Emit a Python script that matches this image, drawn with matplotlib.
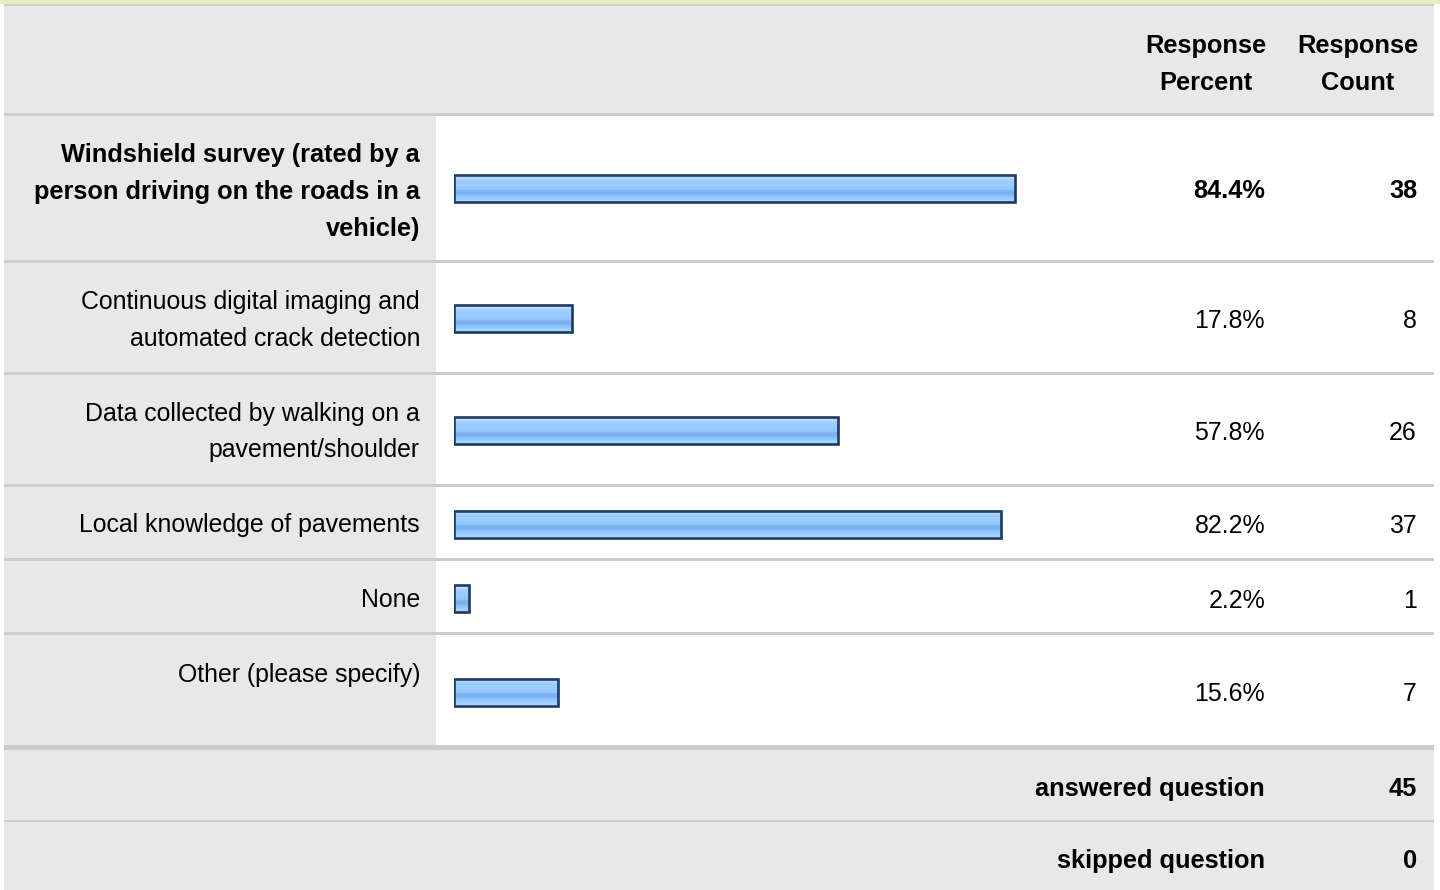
import matplotlib.pyplot as plt
from matplotlib.patches import Rectangle
import numpy as np

plt.rcParams['font.family'] = ['Liberation Sans', 'DejaVu Sans']

# данные опроса
labels = ['Windshield survey (rated by a\nperson driving on the roads in a\nvehicle)',
          'Continuous digital imaging and\nautomated crack detection',
          'Data collected by walking on a\npavement/shoulder',
          'Local knowledge of pavements',
          'None',
          'Other (please specify)']
percents = [84.4, 17.8, 57.8, 82.2, 2.2, 15.6]
counts = [38, 8, 26, 37, 1, 7]
answered = 45
skipped = 0

# разметка строк (пиксели)
row_top = [116, 263, 375, 487, 561, 635]
row_bot = [260, 372, 484, 558, 632, 745]
bar_y = [188.5, 318.5, 430.5, 524, 598.5, 692]
label_y = [190, 318, 430, 523, 598, 673]
line_h = 37
dy = 2  # сдвиг текста вниз
fs = 17.9
fsb = 18.3
gray = '#e8e8e8'
sep = '#cccccc'

fig = plt.figure(figsize=(14.4, 8.9), dpi=100)
ax = fig.add_axes([0, 0, 1, 1])
ax.set_xlim(0, 1440)
ax.set_ylim(890, 0)
ax.axis('off')

def rect(x0, y0, x1, y1, c):
    ax.add_patch(Rectangle((x0, y0), x1 - x0, y1 - y0, facecolor=c, edgecolor='none'))

L, R = 4, 1434
rect(0, 0, 1440, 4, '#e8ecc2')
rect(L, 4, R, 6, sep)
rect(L, 6, R, 113, gray)
rect(L, 113, R, 116, sep)
for i in range(len(labels)):
    rect(L, row_top[i], 436, row_bot[i], gray)
    rect(436, row_top[i], R, row_bot[i], 'white')
    if i < len(labels) - 1:
        rect(L, row_bot[i], R, row_top[i + 1], sep)
rect(L, 745, R, 750, sep)
rect(L, 750, R, 820, gray)
rect(L, 820, R, 822, sep)
rect(L, 822, R, 890, gray)

def txt(x, y, s, ha, bold):
    ax.text(x, y + dy, s, ha=ha, va='center', fontsize=fsb if bold else fs,
            fontweight='bold' if bold else 'normal')

# заголовок
for xc, t in [(1206, 'Response\nPercent'), (1358, 'Response\nCount')]:
    for j, s in enumerate(t.split('\n')):
        txt(xc, 44 + j * line_h, s, 'center', True)

# подписи и значения
for i in range(len(labels)):
    b = (i == 0)
    lines = labels[i].split('\n')
    n = len(lines)
    for j, s in enumerate(lines):
        txt(420, label_y[i] + (j - (n - 1) / 2) * line_h, s, 'right', b)
    txt(1265, bar_y[i], f'{percents[i]:.1f}%', 'right', b)
    txt(1417, bar_y[i], str(counts[i]), 'right', b)

txt(1265, 787, 'answered question', 'right', True)
txt(1417, 787, str(answered), 'right', True)
txt(1265, 859, 'skipped question', 'right', True)
txt(1417, 859, str(skipped), 'right', True)

# полосы
bx0, bw = 454, 665
axb = fig.add_axes([bx0 / 1440, 0, bw / 1440, 1])
axb.axis('off')
axb.patch.set_alpha(0)

grad = ['#c8e3ff', '#b4d8ff', '#a2cfff', '#9accff', '#9accff', '#9accff',
        '#92c6fc', '#7eb4f2', '#78aff0', '#84bbf6', '#92c6fc', '#9ccfff', '#a4d3ff']
grad_rgb = np.array([[int(c[k:k + 2], 16) / 255 for k in (1, 3, 5)] for c in grad])[:, None, :]
bh = 27
for i, p in enumerate(percents):
    axb.imshow(grad_rgb, extent=(0, p, bar_y[i] + bh / 2, bar_y[i] - bh / 2),
               aspect='auto', origin='upper', interpolation='nearest', zorder=2)
axb.barh(bar_y, percents, height=bh, left=0, fill=False,
         edgecolor='#1e3a5f', linewidth=1.9, zorder=3)
axb.set_xlim(0, 100)
axb.set_ylim(890, 0)

fig.savefig('out.png', dpi=100)
